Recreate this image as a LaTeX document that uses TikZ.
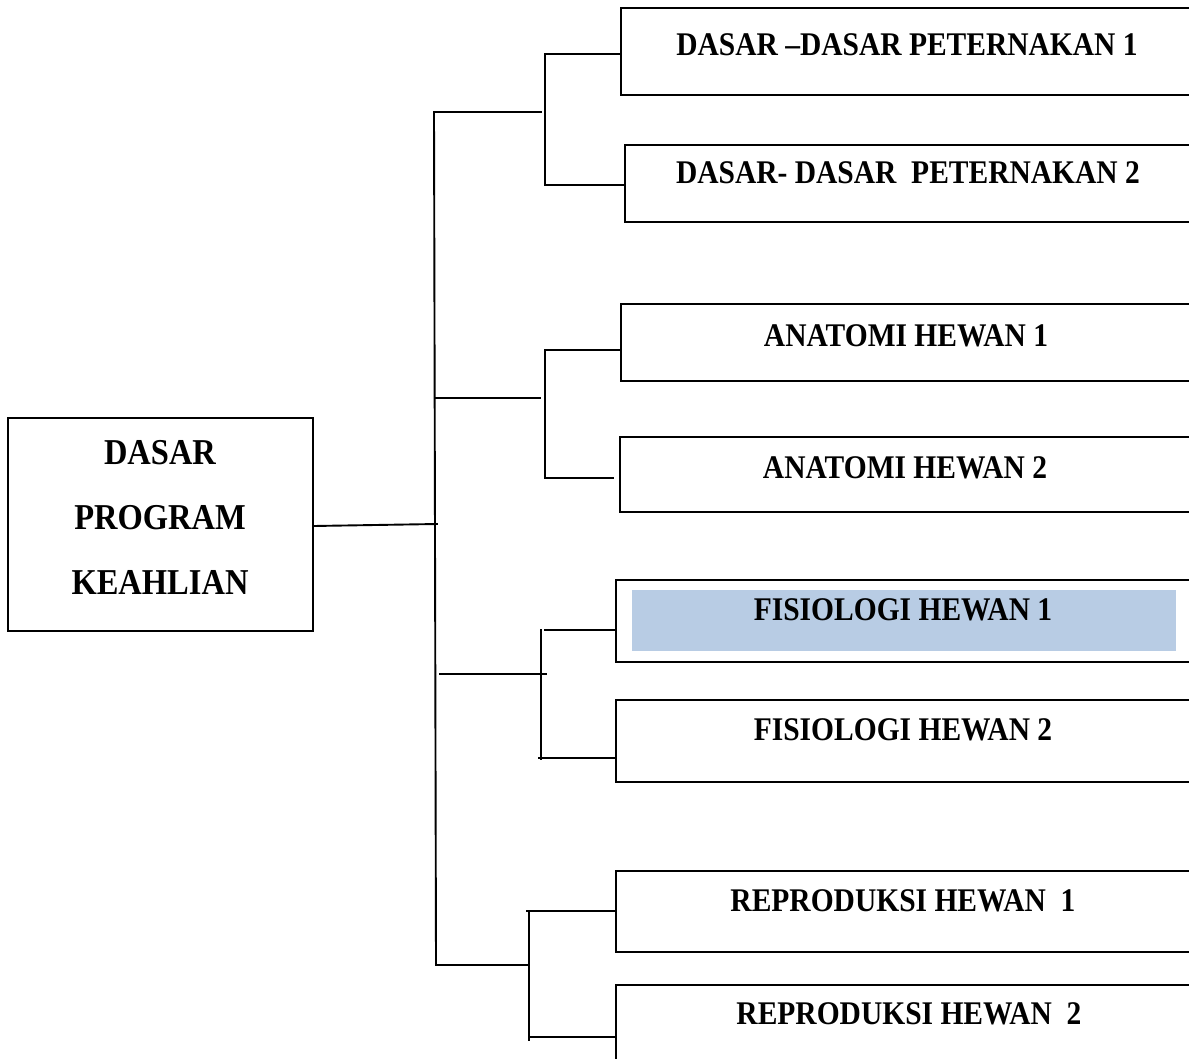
\documentclass[tikz,border=0pt]{standalone}
\usepackage{graphicx}
\usepackage{fontspec}
\setmainfont{Liberation Serif}
\definecolor{hilite}{RGB}{184,204,228}
\newcommand{\tallt}[1]{\scalebox{1}[1.12]{#1}}
\tikzset{
  box/.style={draw=black, line width=1.9pt, anchor=north west, inner sep=0pt},
  lbl/.style={font=\bfseries\fontsize{29.5}{34}\selectfont, inner sep=0pt, anchor=center},
  mainlbl/.style={font=\bfseries\fontsize{32.5}{65}\selectfont, align=center, inner sep=0pt},
  conn/.style={line width=1.9pt, line cap=rect},
}
\begin{document}
\begin{tikzpicture}[x=1pt,y=-1pt]
\useasboundingbox (0,0) rectangle (1189,1059);
\clip (0,0) rectangle (1189,1059);
\fill[white] (0,0) rectangle (1189,1059);
% main box
\node[box, minimum width=305pt, minimum height=213pt] (main) at (7,417) {};
\node[mainlbl] (mt) at (160,517) {\tallt{DASAR}\\\tallt{PROGRAM}\\\tallt{KEAHLIAN}};
% right boxes
\node[box, minimum width=600pt, minimum height=87pt] (b1) at (620,7) {};
\node[box, minimum width=600pt, minimum height=77pt] (b2) at (624,144) {};
\node[box, minimum width=600pt, minimum height=77pt] (b3) at (620,303) {};
\node[box, minimum width=600pt, minimum height=75pt] (b4) at (619,436) {};
\node[box, minimum width=600pt, minimum height=82pt] (b5) at (615,579) {};
\fill[hilite] (632,590) rectangle (1176,651);
\node[box, minimum width=600pt, minimum height=82pt] (b6) at (615,699) {};
\node[box, minimum width=600pt, minimum height=81pt] (b7) at (615,870) {};
\node[box, minimum width=600pt, minimum height=120pt] (b8) at (615,984) {};
% labels
\node[lbl] (t1) at (907,45) {\tallt{DASAR –DASAR PETERNAKAN 1}};
\node[lbl] (t2) at (908,173) {\tallt{DASAR- DASAR\ \ PETERNAKAN 2}};
\node[lbl] (t3) at (906,336) {\tallt{ANATOMI HEWAN 1}};
\node[lbl] (t4) at (905,468) {\tallt{ANATOMI HEWAN 2}};
\node[lbl] (t5) at (903,610) {\tallt{FISIOLOGI HEWAN 1}};
\node[lbl] (t6) at (903,730) {\tallt{FISIOLOGI HEWAN 2}};
\node[lbl] (t7) at (903,901) {\tallt{REPRODUKSI HEWAN\ \ 1}};
\node[lbl] (t8) at (909,1014) {\tallt{REPRODUKSI HEWAN\ \ 2}};
% junction coordinates
\coordinate (mj) at (437,524);
\coordinate (trT) at (434,112);
\coordinate (trB) at (436,965);
\coordinate (s1) at (541,112);
\coordinate (s2) at (540,398);
\coordinate (s3) at (546,674);
\coordinate (s4) at (529,965);
% main link
\draw[conn] (main.east |- 0,526) -- (mj);
% trunk
\draw[conn] (trT) -- (trB);
% branch 1
\draw[conn] (trT) -- (s1);
\draw[conn] (545,54) -- (545,183);
\draw[conn] (545,54) -- (b1.west |- 0,54);
\draw[conn] (545,185) -- (b2.west |- 0,185);
% branch 2
\draw[conn] (436,398) -- (s2);
\draw[conn] (545,350) -- (545,477);
\draw[conn] (545,350) -- (b3.west |- 0,350);
\draw[conn] (545,478) -- (613,478);
% branch 3
\draw[conn] (440,674) -- (s3);
\draw[conn] (541,630) -- (541,759);
\draw[conn] (545,630) -- (b5.west |- 0,630);
\draw[conn] (539,758) -- (b6.west |- 0,758);
% branch 4
\draw[conn] (trB) -- (s4);
\draw[conn] (529,911) -- (529,1040);
\draw[conn] (527,911) -- (b7.west |- 0,911);
\draw[conn] (530,1037) -- (b8.west |- 0,1037);
\end{tikzpicture}
\end{document}
